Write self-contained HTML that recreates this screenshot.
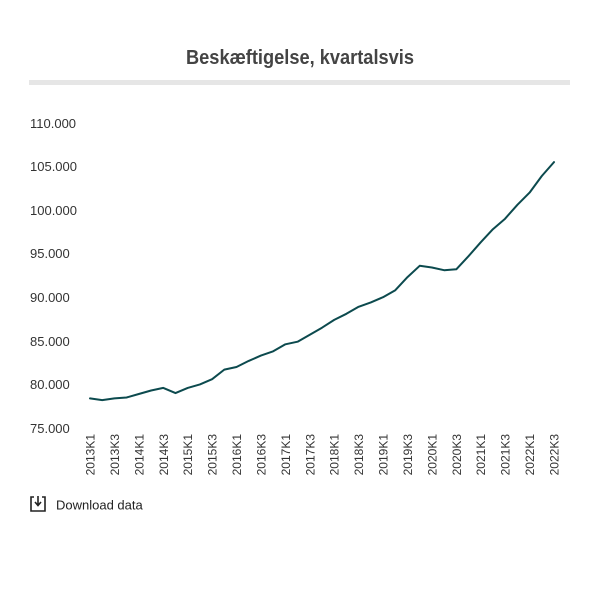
<!DOCTYPE html>
<html><head><meta charset="utf-8"><style>
body{margin:0;background:#fff;}
svg{display:block;font-family:"Liberation Sans",Arial,sans-serif;}
</style></head><body>
<svg width="600" height="602" viewBox="0 0 600 602">
<text x="300" y="64" text-anchor="middle" font-size="20" font-weight="bold" fill="#444" textLength="228" lengthAdjust="spacingAndGlyphs">Beskæftigelse, kvartalsvis</text>
<rect x="29" y="80" width="541" height="5" fill="#e6e6e6"/>
<g font-size="13" fill="#333">
<text x="30" y="128">110.000</text>
<text x="30" y="171">105.000</text>
<text x="30" y="215">100.000</text>
<text x="30" y="258">95.000</text>
<text x="30" y="302">90.000</text>
<text x="30" y="346">85.000</text>
<text x="30" y="389">80.000</text>
<text x="30" y="433">75.000</text>
</g>
<g font-size="12" fill="#333" text-anchor="end">
<text transform="translate(94.5,434) rotate(-90)">2013K1</text>
<text transform="translate(118.9,434) rotate(-90)">2013K3</text>
<text transform="translate(143.3,434) rotate(-90)">2014K1</text>
<text transform="translate(167.8,434) rotate(-90)">2014K3</text>
<text transform="translate(192.2,434) rotate(-90)">2015K1</text>
<text transform="translate(216.6,434) rotate(-90)">2015K3</text>
<text transform="translate(241,434) rotate(-90)">2016K1</text>
<text transform="translate(265.4,434) rotate(-90)">2016K3</text>
<text transform="translate(289.9,434) rotate(-90)">2017K1</text>
<text transform="translate(314.3,434) rotate(-90)">2017K3</text>
<text transform="translate(338.7,434) rotate(-90)">2018K1</text>
<text transform="translate(363.1,434) rotate(-90)">2018K3</text>
<text transform="translate(387.5,434) rotate(-90)">2019K1</text>
<text transform="translate(412,434) rotate(-90)">2019K3</text>
<text transform="translate(436.4,434) rotate(-90)">2020K1</text>
<text transform="translate(460.8,434) rotate(-90)">2020K3</text>
<text transform="translate(485.2,434) rotate(-90)">2021K1</text>
<text transform="translate(509.6,434) rotate(-90)">2021K3</text>
<text transform="translate(534.1,434) rotate(-90)">2022K1</text>
<text transform="translate(558.5,434) rotate(-90)">2022K3</text>
</g>
<polyline fill="none" stroke="#0c4a4e" stroke-width="2" stroke-linejoin="round" stroke-linecap="round" points="90,398.4 102.2,400.1 114.4,398.4 126.6,397.5 138.8,394 151.1,390.5 163.3,387.9 175.5,393.1 187.7,387.9 199.9,384.4 212.1,379.2 224.3,369.6 236.5,367 248.7,360.9 260.9,355.6 273.2,351.3 285.4,344.3 297.6,341.7 309.8,334.7 322,327.7 334.2,319.9 346.4,313.8 358.6,306.8 370.8,302.4 383,297.2 395.3,290.2 407.5,277.1 419.7,265.8 431.9,267.5 444.1,270.2 456.3,269.3 468.5,256.2 480.7,242.3 492.9,229.2 505.1,218.7 517.4,204.8 529.6,192.6 541.8,176 554,162.1"/>
<g stroke="#222" stroke-width="1.6" fill="none">
<path d="M34,497 H31 V511 H45 V497 H42"/>
<path d="M38,496 V505 M35,502 L38,505.5 L41,502"/>
</g>
<text x="56" y="509.5" font-size="13" fill="#222">Download data</text>
</svg>
</body></html>
